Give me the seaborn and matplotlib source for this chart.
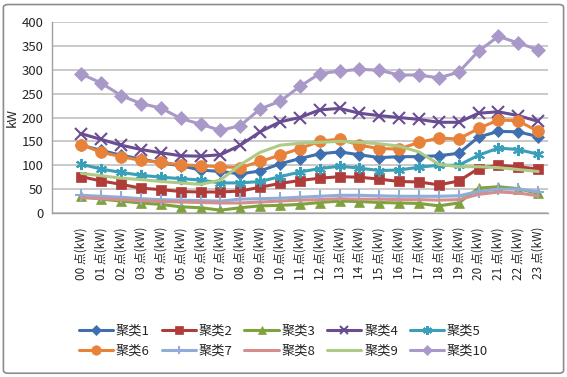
import matplotlib
matplotlib.use("Agg")
import matplotlib.pyplot as plt
import matplotlib.patches as patches
import seaborn as sns
import pandas as pd

# hourly load per cluster (kW)
hours = list(range(24))
hour_labels = [f"{h:02d} 点(kW)" for h in hours]

s1 = [142, 131, 121, 113, 105, 99, 90, 87, 82, 88, 103, 114, 124, 128, 122, 116, 118, 118, 120, 125, 159, 171, 170, 160]
s2 = [76, 67, 60, 52, 49, 45, 44, 44, 46, 54, 62, 68, 73, 76, 75, 71, 66, 65, 59, 67, 93, 100, 97, 92]
s3 = [35, 29, 25, 21, 18, 13, 11, 6, 11, 15, 16, 18, 22, 25, 24, 22, 21, 20, 15, 21, 52, 55, 51, 41]
s4 = [166, 154, 142, 133, 126, 120, 119, 122, 142, 170, 191, 200, 216, 219, 209, 204, 200, 196, 190, 190, 209, 212, 204, 192]
s5 = [102, 92, 85, 79, 75, 72, 69, 63, 63, 66, 76, 86, 93, 98, 94, 89, 90, 96, 100, 100, 121, 136, 133, 123]
s6 = [143, 127, 118, 110, 106, 101, 99, 97, 95, 108, 121, 135, 150, 155, 142, 135, 134, 148, 157, 155, 177, 195, 193, 171]
s7 = [37, 35, 33, 30, 28, 27, 26, 25, 29, 30, 31, 33, 35, 37, 37, 36, 35, 35, 35, 36, 45, 50, 50, 45]
s8 = [32, 30, 28, 26, 24, 23, 22, 21, 21, 23, 25, 27, 28, 30, 29, 29, 28, 28, 27, 28, 39, 44, 42, 36]
s9 = [83, 78, 73, 70, 66, 63, 60, 69, 101, 127, 142, 146, 148, 150, 148, 145, 140, 128, 102, 97, 97, 95, 91, 87]
s10 = [291, 272, 246, 229, 220, 198, 186, 173, 183, 218, 234, 265, 292, 297, 301, 299, 289, 289, 283, 295, 339, 370, 356, 342]

series_names = ["聚类1", "聚类2", "聚类3", "聚类4", "聚类5", "聚类6", "聚类7", "聚类8", "聚类9", "聚类10"]
series_values = [s1, s2, s3, s4, s5, s6, s7, s8, s9, s10]

colors = ["#3F6FAF", "#B03C3A", "#7FA23D", "#6A4C93", "#3A9FB8",
          "#E8823A", "#8FADD8", "#D38E8D", "#AECB86", "#A999C8"]
markers = ["D", "s", "^", "x", (6, 2, 0), "o", "+", None, None, "D"]
msizes = [6, 7.5, 7, 8, 8, 8.5, 8, 0, 0, 7]

sns.set_style("white")
plt.rcParams["font.family"] = ["Noto Sans CJK SC", "DejaVu Sans"]

fig = plt.figure(figsize=(5.67, 3.77), dpi=100)
ax = fig.add_axes([0.0912, 0.435, 0.8753, 0.5066])

for name, vals, col, mk, ms in zip(series_names, series_values, colors, markers, msizes):
    df = pd.DataFrame({"hour": hours, "kW": vals})
    kw = dict(marker=mk, markersize=ms, markeredgecolor=col, markerfacecolor=col)
    if mk in ("x", "+") or isinstance(mk, tuple):
        kw["markeredgewidth"] = 1.5
    else:
        kw["markeredgewidth"] = 0.5
    if mk is None:
        kw = {}
    sns.lineplot(data=df, x="hour", y="kW", color=col, linewidth=2.2,
                 label=name, ax=ax, legend=False, **kw)

ax.set_xlim(-1.5, 23.5)
ax.set_ylim(0, 400)
ax.set_yticks(range(0, 401, 50))
ax.set_xticks(hours)
ax.set_xticklabels(hour_labels, rotation=90, fontsize=8.5)
ax.set_xticks([h - 0.5 for h in range(-1, 25)], minor=True)
ax.tick_params(axis="x", which="major", length=0, pad=10)
ax.tick_params(axis="x", which="minor", length=4, color="#A0A0A0", width=1)
ax.tick_params(axis="y", length=4, color="#A0A0A0", width=1, labelsize=9.5, pad=2)
ax.set_xlabel("")
ax.set_ylabel("kW", fontsize=9.5, labelpad=2)
ax.yaxis.grid(True, color="#C0C0C0", linewidth=1.2)
ax.set_axisbelow(True)
for side in ("top", "right"):
    ax.spines[side].set_visible(False)
for side in ("left", "bottom"):
    ax.spines[side].set_color("#A0A0A0")
    ax.spines[side].set_linewidth(1)

# legend fills column-first, so interleave to get the two rows 1-5 / 6-10
handles, labels = ax.get_legend_handles_labels()
order = [0, 5, 1, 6, 2, 7, 3, 8, 4, 9]
fig.legend([handles[i] for i in order], [labels[i] for i in order],
           loc="center", bbox_to_anchor=(0.5, 0.096), ncol=5,
           frameon=False, fontsize=9.5, handlelength=2.6, handletextpad=0.2,
           columnspacing=0.9, labelspacing=0.55, borderpad=0, markerscale=0.8)

border = patches.FancyBboxPatch((0.006, 0.01), 0.988, 0.978,
                                boxstyle="round,pad=0,rounding_size=0.008",
                                transform=fig.transFigure, fill=False,
                                edgecolor="#8C8C8C", linewidth=1.2)
fig.patches.append(border)

fig.savefig("out.png", dpi=100)
